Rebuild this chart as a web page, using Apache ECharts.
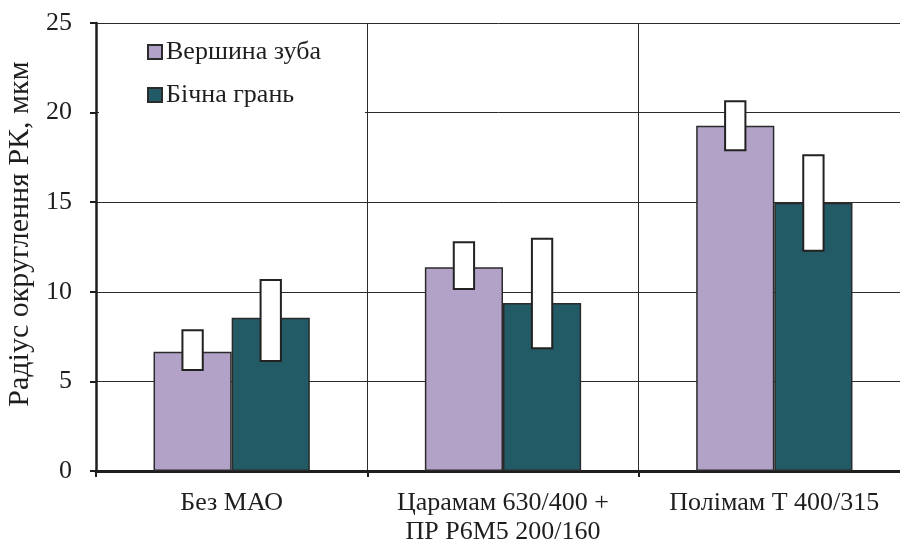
<!DOCTYPE html>
<html>
<head>
<meta charset="utf-8">
<script src="https://cdn.jsdelivr.net/npm/echarts@6/dist/echarts.min.js"></script>
<style>
  html, body { margin: 0; padding: 0; background: #fff; }
  #chart { width: 900px; height: 542px; }
</style>
</head>
<body>
<div id="chart"></div>
<script>
// Categories (treatment variants)
const categories = ['Без МАО', 'Царамам 630/400 +\nПР Р6М5 200/160', 'Полімам Т 400/315'];
const seriesNames = ['Вершина зуба', 'Бічна грань'];

// Mean rounding radius, µm
const tipValues = [6.65, 11.37, 19.27];
const sideValues = [8.55, 9.38, 14.97];

// Scatter ranges (low, high), µm
const tipLow = [5.64, 10.16, 17.90];
const tipHigh = [7.85, 12.76, 20.63];
const sideLow = [6.14, 6.85, 12.29];
const sideHigh = [10.66, 12.96, 17.62];

// Y axis ticks
const yTicks = [0, 5, 10, 15, 20, 25];

const colors = ['#B2A2C8', '#225A66'];
const BAR_SHARE = 0.288; // bar width as share of category band
const ink = '#1e1e1e';
const fontFamily = 'Liberation Serif, serif';

// Range boxes: [categoryIndex, low, high, seriesIndex]
const rangeData = [];
categories.forEach((c, i) => {
  rangeData.push([i, tipLow[i], tipHigh[i], 0]);
  rangeData.push([i, sideLow[i], sideHigh[i], 1]);
});

const chart = echarts.init(document.getElementById('chart'));

chart.setOption({
  animation: false,
  backgroundColor: '#fff',
  textStyle: { fontFamily },
  grid: { left: 96, width: 814, top: 23, bottom: 71, containLabel: false, outerBoundsMode: 'none' },
  legend: {
    orient: 'vertical',
    left: 142,
    top: 34,
    itemWidth: 14,
    itemHeight: 14,
    itemGap: 17,
    icon: 'rect',
    data: seriesNames,
    textStyle: { fontFamily, fontSize: 26, lineHeight: 26, color: ink, padding: [0, 0, 0, -1] }
  },
  graphic: [{
    type: 'rect',
    z: 1,
    shape: { x: 99, y: 25, width: 266, height: 100 },
    style: { fill: '#fff' }
  }],
  xAxis: {
    type: 'category',
    data: categories,
    axisLine: { lineStyle: { color: ink, width: 3 } },
    axisTick: { show: true, length: 6, lineStyle: { color: ink, width: 2 } },
    splitLine: { show: true, lineStyle: { color: '#2a2a2a', width: 1 } },
    axisLabel: { interval: 0, fontFamily, fontSize: 26, lineHeight: 29, color: ink, margin: 18 }
  },
  yAxis: {
    type: 'value',
    min: yTicks[0],
    max: yTicks[yTicks.length - 1],
    interval: yTicks[1] - yTicks[0],
    name: 'Радіус округлення РК, мкм',
    nameLocation: 'middle',
    nameGap: 58,
    nameTextStyle: { fontFamily, fontSize: 30, color: ink, padding: [0, 0, 0, 26] },
    axisLine: { show: true, lineStyle: { color: ink, width: 2.5 } },
    axisTick: { show: true, length: 6, lineStyle: { color: ink, width: 2 } },
    splitLine: { show: true, lineStyle: { color: '#2a2a2a', width: 1 } },
    axisLabel: { fontFamily, fontSize: 26, color: ink, margin: 24 }
  },
  series: [
    {
      name: seriesNames[0],
      type: 'bar',
      data: tipValues,
      barWidth: (BAR_SHARE * 100) + '%',
      barGap: '0%',
      itemStyle: { color: colors[0], borderColor: '#2b2b2b', borderWidth: 1.5 }
    },
    {
      name: seriesNames[1],
      type: 'bar',
      data: sideValues,
      barWidth: (BAR_SHARE * 100) + '%',
      barGap: '0%',
      itemStyle: { color: colors[1], borderColor: '#2b2b2b', borderWidth: 1.5 }
    },
    {
      type: 'custom',
      z: 5,
      silent: true,
      data: rangeData,
      encode: { x: 0, y: [1, 2] },
      renderItem: function (params, api) {
        const idx = api.value(0);
        const low = api.coord([idx, api.value(1)]);
        const high = api.coord([idx, api.value(2)]);
        const band = api.size([1, 0])[0];
        const barW = band * BAR_SHARE;
        const side = api.value(3) === 0 ? -0.5 : 0.5;
        const cx = low[0] + side * barW;
        const w = barW * 0.26;
        return {
          type: 'rect',
          shape: { x: cx - w / 2, y: high[1], width: w, height: low[1] - high[1] },
          style: { fill: '#fff', stroke: '#222', lineWidth: 2 }
        };
      }
    }
  ]
});
</script>
</body>
</html>
